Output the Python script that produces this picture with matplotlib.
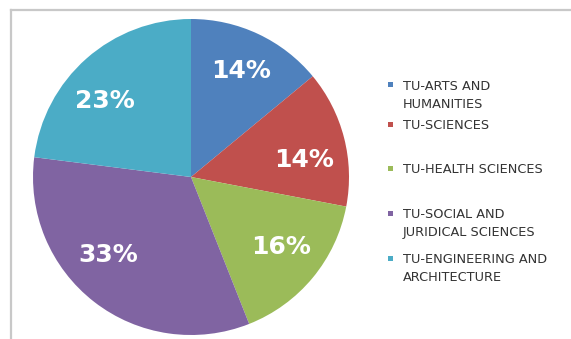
import matplotlib as mpl
mpl.use("agg")
import matplotlib.pyplot as plt
from matplotlib.patches import Rectangle
import numpy as np

# faculty shares of the total (percent)
faculties = ["TU-ARTS AND\nHUMANITIES", "TU-SCIENCES", "TU-HEALTH SCIENCES",
             "TU-SOCIAL AND\nJURIDICAL SCIENCES", "TU-ENGINEERING AND\nARCHITECTURE"]
shares = [14, 14, 16, 33, 23]
colors = ["#4F81BD", "#C0504D", "#9BBB59", "#8064A2", "#4BACC6"]

W, H = 571, 339
fig = plt.figure(figsize=(W / 100, H / 100), dpi=100)
fig.patch.set_facecolor("white")

# grey chart frame, only top and left edges show
bg = fig.add_axes([11 / W, 0, 1 - 11 / W, 1 - 10 / H])
bg.set_xticks([])
bg.set_yticks([])
for side in ["right", "bottom"]:
    bg.spines[side].set_visible(False)
for side in ["left", "top"]:
    bg.spines[side].set_color("#c8c8c8")
    bg.spines[side].set_linewidth(1.6)

# pie: centre (191, 177) px, radius 158 px
cx, cy, r = 191, 177, 158
ax = fig.add_axes([(cx - r) / W, 1 - (cy + r) / H, 2 * r / W, 2 * r / H])
wedges, texts, autotexts = ax.pie(
    shares, colors=colors, startangle=90, counterclock=False,
    autopct=lambda p: "%.0f%%" % p, pctdistance=0.73,
    wedgeprops=dict(linewidth=0),
    textprops=dict(color="white", fontsize=18, fontweight="bold"))
ax.set_xlim(-1, 1)
ax.set_ylim(-1, 1)

# percentage labels nudged to where they sit in the chart (angle deg, radius)
label_ang = [64.6, 8.6, -37.7, -136.8, 138.5]
label_rad = [0.746, 0.723, 0.724, 0.72, 0.726]
for t, a, rr in zip(autotexts, label_ang, label_rad):
    t.set_position((rr * np.cos(np.radians(a)), rr * np.sin(np.radians(a))))

# legend drawn by hand, marker level with the first line
legend_y = [85, 124, 168, 213, 258]
for name, col, y in zip(faculties, colors, legend_y):
    fig.add_artist(Rectangle(((390 - 2.5) / W, 1 - (y + 2.5) / H), 5 / W, 5 / H,
                             transform=fig.transFigure, facecolor=col, edgecolor="none"))
    fig.text(403 / W, 1 - (y - 4.7) / H, name, fontsize=9.3, color="#333333",
             va="top", ha="left", linespacing=1.5)

fig.savefig("out.png", dpi=100)
